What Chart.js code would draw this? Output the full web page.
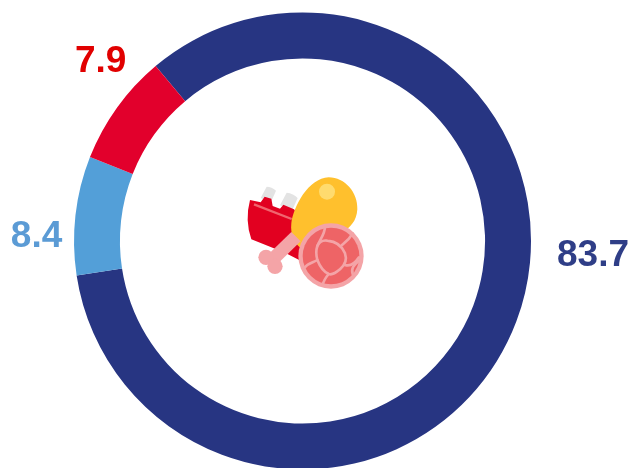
<!DOCTYPE html>
<html>
<head>
<meta charset="utf-8">
<script src="https://cdn.jsdelivr.net/npm/chart.js@4/dist/chart.umd.min.js"></script>
<style>
html,body{margin:0;padding:0;background:#fff;overflow:hidden;width:633px;height:468px}
#wrap{position:absolute;left:0;top:0;width:633px;height:482px}
#icon{position:absolute;left:230px;top:170px;width:150px;height:130px}
</style>
</head>
<body>
<div id="wrap"><canvas id="c"></canvas></div>
<svg id="icon" viewBox="0 0 450 390" xmlns="http://www.w3.org/2000/svg">
  <g fill="#E3E3E3">
    <path d="M110 50 Q125 50 138 62 L122 98 L92 84 Z"/>
    <path d="M170 68 Q190 70 203 84 L186 122 L150 106 Z"/>
  </g>
  <path fill="#E20020" d="M60 90 L92 97 L104 80 L124 86 L128 108 L150 116 L160 104 L192 118 L215 150 L240 240 L212 272 L165 248 L64 208 Q44 150 60 90 Z"/>
  <path d="M72 103 L185 147" stroke="#F0656F" stroke-width="7" fill="none"/>
  <path fill="#FFC02D" d="M296 22 C345 22 384 68 382 118 C380 155 360 172 335 190 C300 215 250 225 215 235 C195 225 180 195 184 160 C190 110 235 25 296 22 Z"/>
  <circle cx="291" cy="65" r="24" fill="#FFDB6E"/>
  <g fill="#F4A4A7">
    <path d="M184 186 L212 214 L140 284 L112 256 Z"/>
    <circle cx="108" cy="262" r="23"/>
    <circle cx="135" cy="289" r="23"/>
  </g>
  <circle cx="303" cy="258" r="98" fill="#F4A4A7"/>
  <circle cx="303" cy="258" r="85" fill="#EE6466"/>
  <g fill="none" stroke="#F4A4A7" stroke-width="8" stroke-linejoin="round" stroke-linecap="round">
    <path d="M262 228 C268 215 280 210 292 212 C315 214 335 225 345 250 C352 270 345 285 330 298 C318 308 308 316 296 312 C280 305 268 285 262 270 C258 255 258 240 262 228 Z"/>
    <path d="M285 170 C285 190 272 205 262 228"/>
    <path d="M225 292 C235 278 250 278 262 270"/>
    <path d="M296 312 C285 325 280 335 278 345"/>
    <path d="M335 226 C348 215 358 208 368 190"/>
    <path d="M345 285 C360 290 375 280 387 262"/>
    <path d="M368 312 C362 295 372 285 387 272"/>
  </g>
</svg>
<script>
const categories = ["Navy share", "Blue share", "Red share"];
const values = [83.7, 8.4, 7.9];
const sliceColors = ["#273582", "#539FD8", "#E2002C"];
const labelColors = ["#2F3E87", "#5B9BD5", "#E10000"];
const labelTexts = ["83.7", "8.4", "7.9"];

const labelPlugin = {
  id: "sliceLabels",
  afterDatasetsDraw(chart) {
    const ctx = chart.ctx;
    const arcs = chart.getDatasetMeta(0).data;
    const nudges = [[76.7, -66], [-38.9, 21], [-16.4, -46]];
    ctx.save();
    ctx.font = "bold 37px 'Liberation Sans', Arial, sans-serif";
    ctx.textAlign = "center";
    ctx.textBaseline = "middle";
    arcs.forEach((arc, i) => {
      const mid = (arc.startAngle + arc.endAngle) / 2;
      const x = arc.x + Math.cos(mid) * arc.outerRadius + nudges[i][0];
      const y = arc.y + Math.sin(mid) * arc.outerRadius + nudges[i][1];
      ctx.fillStyle = labelColors[i];
      ctx.fillText(labelTexts[i], x, y);
    });
    ctx.restore();
  }
};

new Chart(document.getElementById("c"), {
  type: "doughnut",
  data: {
    labels: categories,
    datasets: [{ data: values, backgroundColor: sliceColors, borderWidth: 0, hoverOffset: 0 }]
  },
  options: {
    responsive: true,
    maintainAspectRatio: false,
    animation: false,
    rotation: -40,
    cutout: "79.9%",
    layout: { padding: { left: 74, right: 102, top: 12.5, bottom: 12.5 } },
    plugins: { legend: { display: false }, tooltip: { enabled: false } }
  },
  plugins: [labelPlugin]
});
</script>
</body>
</html>
